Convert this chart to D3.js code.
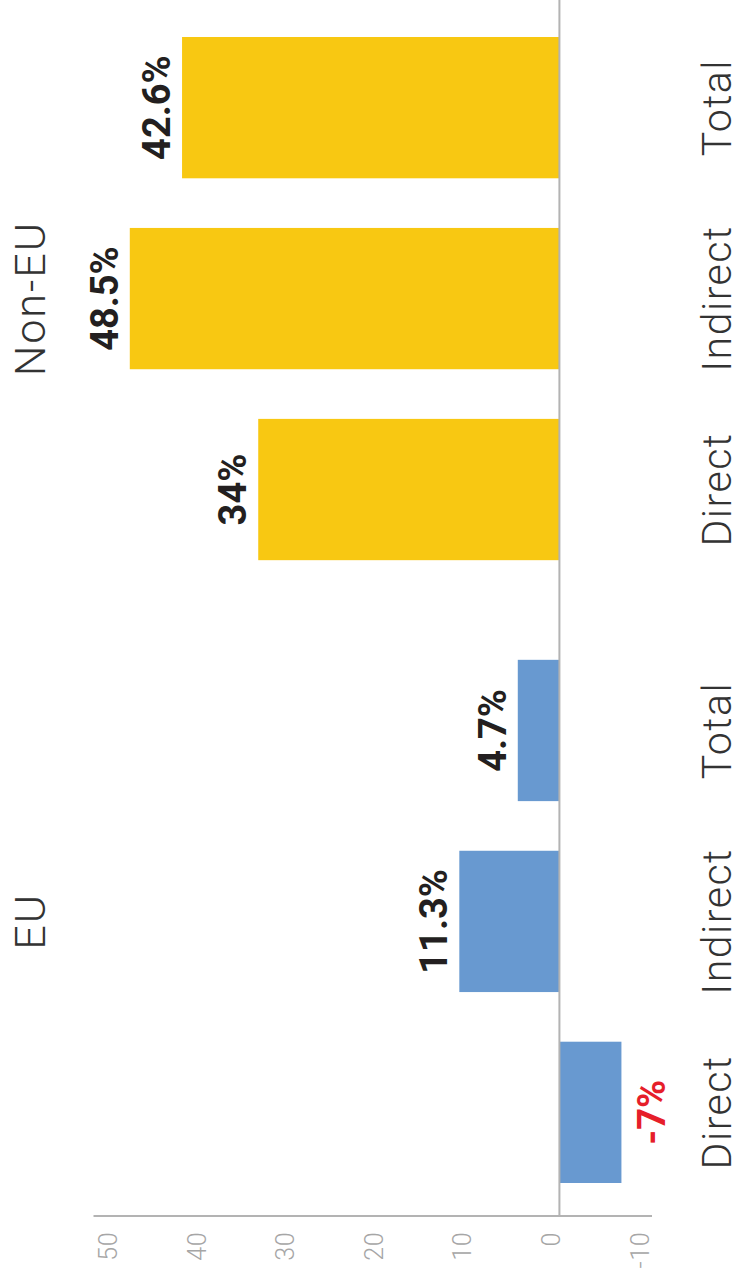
<!DOCTYPE html>
<html>
  <head>
    <meta charset="UTF-8">
    <title>EU / Non-EU: Direct, Indirect, Total</title>
    <style>
      body { margin: 0; background: #fff; }
      svg { display: block; }
      text { font-family: Roboto, "DejaVu Sans", sans-serif; }
    </style>
  </head>
  <body>
    <svg></svg>

    <script src="https://d3js.org/d3.v7.min.js"></script>
    <script>

/* DATA */
var groups = ["EU", "Non-EU"];
var types = ["Direct", "Indirect", "Total"];
var euValues = [-7, 11.3, 4.7];
var nonEuValues = [34, 48.5, 42.6];
var tickValues = [50, 40, 30, 20, 10, 0, -10];

var config = {
  "width": 741,
  "height": 1277,
  "yellow": "#f8c812",
  "blue": "#6899d0",
  "red": "#e61e2a",
  "grey": "#b3b3b3"
};

// one row per bar
var rows = [];
types.forEach(function(t, i){
  rows.push({"group": "EU", "type": t, "value": euValues[i]});
});
types.forEach(function(t, i){
  rows.push({"group": "Non-EU", "type": t, "value": nonEuValues[i]});
});

var svg = d3.select("svg")
  .attr("width", config.width)
  .attr("height", config.height);

// the chart is drawn as a normal column chart, then turned a quarter to the left
// inside the group: u runs along the categories, v down the values
var W = config.height,
  H = config.width;

var chart = svg.append("g")
  .attr("transform", "translate(0," + config.height + ") rotate(-90)");

var x0 = d3.scaleBand()
  .domain(groups)
  .range([94, 1240])
  .paddingInner(0.16);

var x1 = d3.scaleBand()
  .domain(types)
  .range([0, x0.bandwidth()])
  .paddingInner(0.26);

var y = d3.scaleLinear()
  .domain([-10, 50])
  .range([648, 116.5]);

var axisX = 61;

// value axis (plain hyphen for the minus, like the original)
var axis = chart.append("g")
  .attr("transform", "translate(" + axisX + ",0)")
  .call(d3.axisLeft(y)
    .tickValues(tickValues)
    .tickFormat(function(d){ return String(d); })
    .tickSize(0)
    .tickPadding(16));

axis.select(".domain").remove();
axis.selectAll("text")
  .attr("dy", 0)
  .attr("fill", "#a6a6a6")
  .style("font-size", "25px")
  .style("font-weight", 300)
  .style("letter-spacing", "0.5px");

chart.append("line")
  .attr("x1", axisX).attr("x2", axisX)
  .attr("y1", y(-10) + 4).attr("y2", y(50) - 23)
  .attr("stroke", config.grey)
  .attr("stroke-width", 2);

// bars
chart.selectAll(".bar")
  .data(rows)
  .enter().append("rect")
    .attr("class", "bar")
    .attr("x", function(d){ return x0(d.group) + x1(d.type); })
    .attr("width", x1.bandwidth())
    .attr("y", function(d){ return y(Math.max(0, d.value)); })
    .attr("height", function(d){ return Math.abs(y(d.value) - y(0)); })
    .attr("fill", function(d){ return d.group == "EU" ? config.blue : config.yellow; });

// zero line
chart.append("line")
  .attr("x1", axisX).attr("x2", W)
  .attr("y1", y(0)).attr("y2", y(0))
  .attr("stroke", config.grey)
  .attr("stroke-width", 2);

// value labels
chart.selectAll(".value")
  .data(rows)
  .enter().append("text")
    .attr("class", "value")
    .attr("text-anchor", "middle")
    .attr("x", function(d){ return x0(d.group) + x1(d.type) + x1.bandwidth()/2; })
    .attr("y", function(d){ return d.value >= 0 ? y(d.value) - 12 : y(d.value) + 44; })
    .attr("fill", function(d){ return d.value < 0 ? config.red : "#231f20"; })
    .style("font-size", "38px")
    .style("font-weight", 700)
    .text(function(d){ return d.value + "%"; });

// category labels
chart.selectAll(".type")
  .data(rows)
  .enter().append("text")
    .attr("class", "type")
    .attr("text-anchor", "middle")
    .attr("x", function(d){ return x0(d.group) + x1(d.type) + x1.bandwidth()/2; })
    .attr("y", 731)
    .attr("fill", "#333")
    .style("font-size", "41px")
    .style("font-weight", 300)
    .style("letter-spacing", "1.5px")
    .text(function(d){ return d.type; });

// group labels
chart.selectAll(".group")
  .data(groups)
  .enter().append("text")
    .attr("class", "group")
    .attr("text-anchor", "middle")
    .attr("x", function(d){ return x0(d) + x0.bandwidth()/2; })
    .attr("y", 45)
    .attr("fill", "#333")
    .style("font-size", "43px")
    .style("font-weight", 300)
    .style("letter-spacing", "2px")
    .text(function(d){ return d; });

    </script>
  </body>
</html>
